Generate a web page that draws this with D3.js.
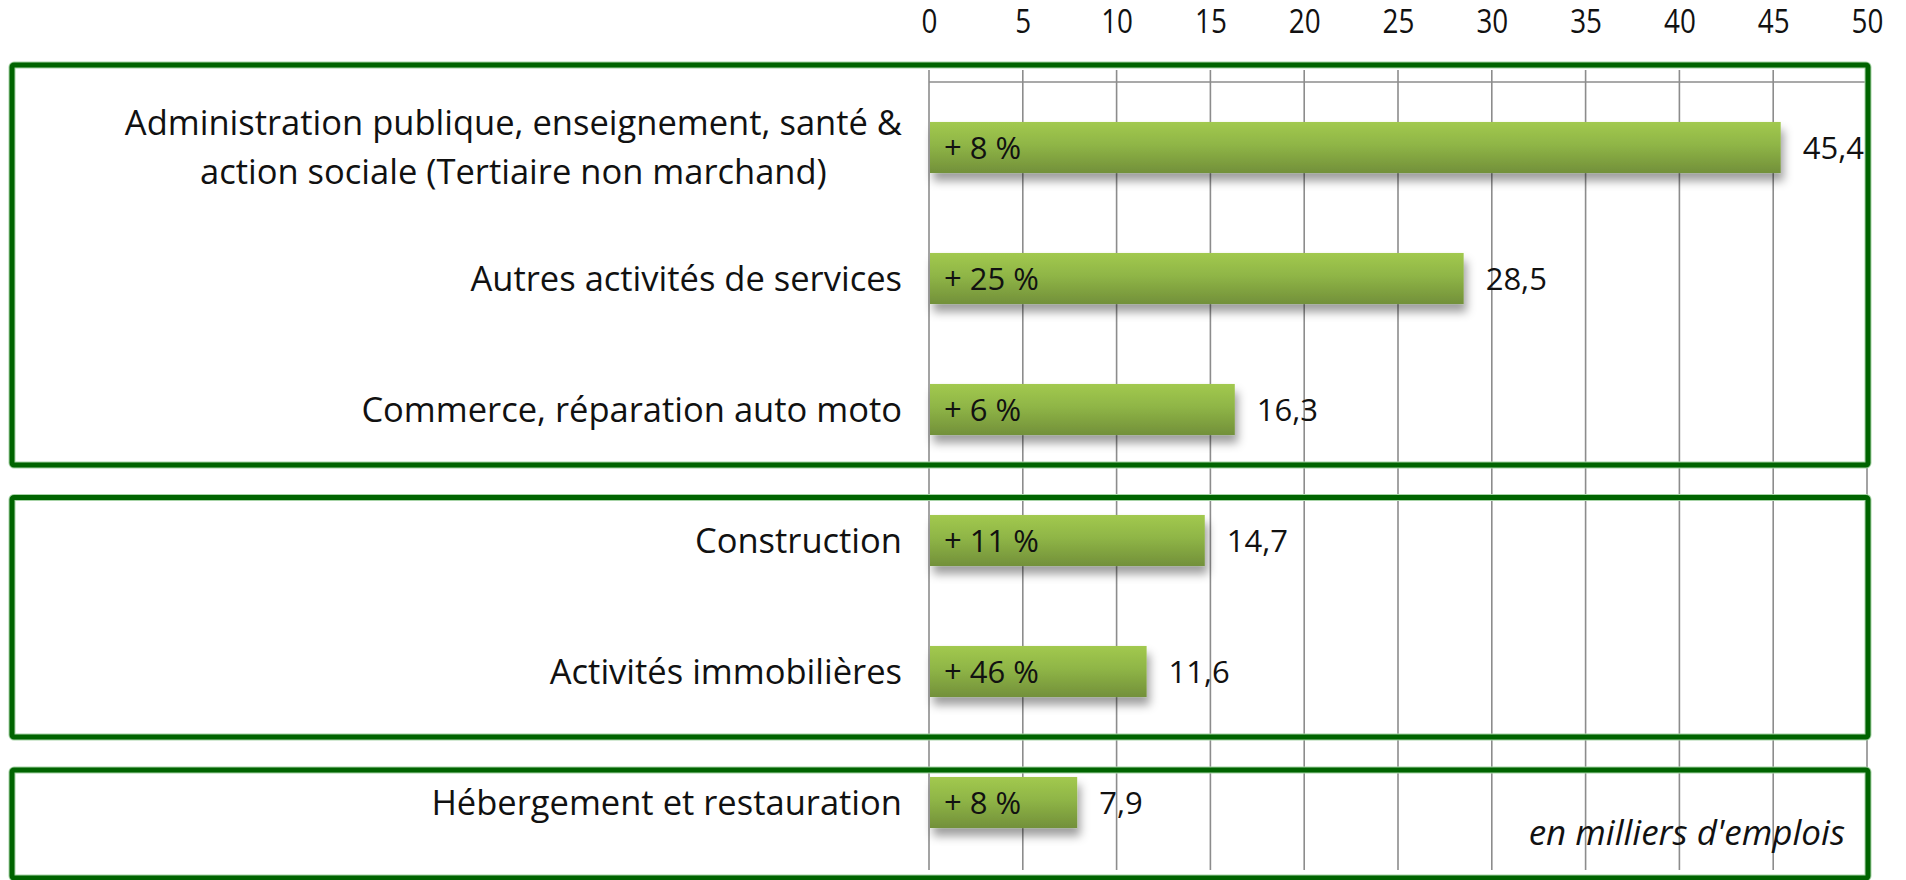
<!DOCTYPE html>
<html>
<head>
<meta charset="utf-8">
<script src="https://cdn.jsdelivr.net/npm/d3@7"></script>
<style>
  html, body { margin: 0; padding: 0; background: #fff; }
  svg { display: block; font-family: "Open Sans", sans-serif; }
</style>
</head>
<body>
<svg id="chart" width="1906" height="880"></svg>
<script>
// ---------- data ----------
const categories = [
  ["Administration publique, enseignement, santé &", "action sociale (Tertiaire non marchand)"],
  ["Autres activités de services"],
  ["Commerce, réparation auto moto"],
  ["Construction"],
  ["Activités immobilières"],
  ["Hébergement et restauration"]
];
const values = [45.4, 28.5, 16.3, 14.7, 11.6, 7.9];
const growthLabels = ["+ 8 %", "+ 25 %", "+ 6 %", "+ 11 %", "+ 46 %", "+ 8 %"];
const tickValues = [0, 5, 10, 15, 20, 25, 30, 35, 40, 45, 50];
const groups = [[0, 2], [3, 4], [5, 5]];   // category index ranges framed together
const unitNote = "en milliers d'emplois";

// ---------- layout ----------
const W = 1906, H = 880;
const svg = d3.select("#chart");
const ids = d3.range(values.length);

const x = d3.scaleLinear().domain([0, 50]).range([929, 1867]);
const y = d3.scaleBand().domain(ids).range([82, 868]).paddingInner(0.61).paddingOuter(0.305);

const fmt = v => d3.format(".1f")(v).replace(".", ",");

// defs: gradient + shadow
const defs = svg.append("defs");
const grad = defs.append("linearGradient").attr("id", "barGrad")
  .attr("x1", 0).attr("y1", 0).attr("x2", 0).attr("y2", 1);
grad.append("stop").attr("offset", "0%").attr("stop-color", "#a2c94f");
grad.append("stop").attr("offset", "45%").attr("stop-color", "#8fb546");
grad.append("stop").attr("offset", "100%").attr("stop-color", "#72903a");
const f = defs.append("filter").attr("id", "shadow")
  .attr("x", "-5%").attr("y", "-20%").attr("width", "115%").attr("height", "180%");
f.append("feDropShadow").attr("dx", 3).attr("dy", 8).attr("stdDeviation", 5)
  .attr("flood-color", "#000").attr("flood-opacity", 0.38);

// gridlines
svg.append("g").selectAll("line").data(tickValues).join("line")
  .attr("x1", d => x(d)).attr("x2", d => x(d))
  .attr("y1", 70).attr("y2", 870)
  .attr("stroke", "#8c8c8c").attr("stroke-width", 1.6);
// top axis line
svg.append("line")
  .attr("x1", x(0)).attr("x2", x(50)).attr("y1", 82).attr("y2", 82)
  .attr("stroke", "#8c8c8c").attr("stroke-width", 1.6);

// tick labels (top axis)
const axis = svg.append("g").attr("transform", "translate(0,22)")
  .call(d3.axisTop(x).tickValues(tickValues).tickSize(0).tickFormat(d3.format("d")));
axis.select(".domain").remove();
axis.selectAll("text")
  .attr("y", 0).attr("dy", "0.357em")
  .attr("font-family", "Open Sans").attr("font-size", 32)
  .attr("fill", "#111")
  .attr("transform", "scale(0.87,1)");

// group frames
const frameY = [[65, 465], [497.5, 737], [770, 878]];
const frames = svg.append("g");
groups.forEach((g, i) => {
  const [t, b] = frameY[i];
  frames.append("rect").attr("x", 12).attr("y", t).attr("width", 1868 - 12).attr("height", b - t)
    .attr("fill", "none").attr("stroke", "#a6d3a6").attr("stroke-width", 7).attr("rx", 2);
  frames.append("rect").attr("x", 12).attr("y", t).attr("width", 1868 - 12).attr("height", b - t)
    .attr("fill", "none").attr("stroke", "#006400").attr("stroke-width", 5).attr("rx", 2);
});

// bars
svg.append("g").selectAll("rect").data(ids).join("rect")
  .attr("x", x(0) + 1)
  .attr("y", i => y(i))
  .attr("width", i => x(values[i]) - x(0) - 1)
  .attr("height", y.bandwidth())
  .attr("fill", "url(#barGrad)")
  .attr("filter", "url(#shadow)");

// growth labels inside bars
svg.append("g").selectAll("text").data(ids).join("text")
  .attr("x", x(0) + 15)
  .attr("y", i => y(i) + y.bandwidth() / 2)
  .attr("dy", "0.357em")
  .attr("font-size", 31).attr("fill", "#111")
  .text(i => growthLabels[i]);

// value labels
svg.append("g").selectAll("text").data(ids).join("text")
  .attr("x", i => x(values[i]) + 22)
  .attr("y", i => y(i) + y.bandwidth() / 2)
  .attr("dy", "0.357em")
  .attr("font-size", 31).attr("fill", "#111")
  .text(i => fmt(values[i]));

// category labels: block right-aligned at labelRight, lines centred within block
const labelRight = 902;
const catG = svg.append("g");
ids.forEach(i => {
  const lines = categories[i];
  const cy = y(i) + y.bandwidth() / 2;
  const lh = 49;
  const t = catG.append("text")
    .attr("text-anchor", "middle")
    .attr("font-size", 34.5).attr("fill", "#111");
  const spans = lines.map((ln, k) => t.append("tspan")
    .attr("y", cy + (k - (lines.length - 1) / 2) * lh)
    .attr("dy", "0.357em")
    .text(ln));
  const maxW = d3.max(spans, s => s.node().getComputedTextLength());
  spans.forEach(s => s.attr("x", labelRight - maxW / 2));
});

// unit note
svg.append("text")
  .attr("x", 1845).attr("y", 845)
  .attr("text-anchor", "end")
  .attr("font-style", "italic")
  .attr("font-size", 35).attr("fill", "#111")
  .text(unitNote);
</script>
</body>
</html>
